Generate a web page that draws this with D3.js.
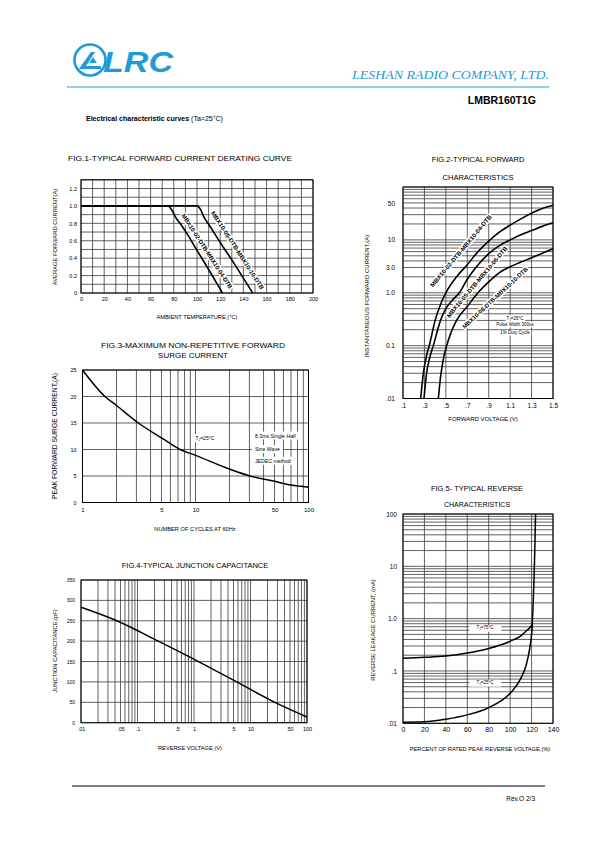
<!DOCTYPE html>
<html><head><meta charset="utf-8">
<script src="https://cdn.jsdelivr.net/npm/d3@7"></script>
<style>
body{margin:0;background:#fff;}
svg{display:block;font-family:"Liberation Sans",Arial,sans-serif;}
</style></head><body>
<svg id="page" width="595" height="842"></svg>
<script>
// ---------- DATA ----------
// Fig.1 derating
const fig1XTicks = [0,20,40,60,80,100,120,140,160,180,200];
const fig1YTicks = [0,0.2,0.4,0.6,0.8,1.0,1.2];
const fig1YLabels = ["0","0.2","0.4","0.6","0.8","1.0","1.2"];
const fig1CurveA = [[0,1],[75,1],[78,0.96],[82,0.86],[86,0.79],[90,0.71],[100,0.49],[110,0.27],[122,0]];
const fig1CurveB = [[0,1],[100,1],[103,0.96],[106,0.87],[110,0.79],[120,0.58],[130,0.38],[140,0.17],[148,0]];
const fig1Labels = [
  {text:"MBX10-02-DTB-MBX10-04-DTB", x:108.6, y:0.48, angle:57, len:88},
  {text:"MBX10-05-DTB-MBX10-10-DTB", x:134.9, y:0.49, angle:57, len:92}
];
// Fig.2 forward characteristics
const fig2XTicks = [0.1,0.3,0.5,0.7,0.9,1.1,1.3,1.5];
const fig2XLabels = [".1",".3",".5",".7",".9","1.1","1.3","1.5"];
const fig2YTicks = [50,10,3,1,0.1,0.01];
const fig2YLabels = ["50","10","3.0","1.0","0.1",".01"];
const fig2Curve1 = [[0.265,0.01],[0.29,0.03],[0.32,0.065],[0.345,0.1],[0.4,0.3],[0.45,0.6],[0.5,1.0],[0.6,2.0],[0.7,3.4],[0.8,6],[0.9,9.5],[1.0,14],[1.1,19],[1.2,25],[1.3,32],[1.4,39],[1.5,45]];
const fig2Curve2 = [[0.296,0.01],[0.32,0.03],[0.35,0.06],[0.383,0.1],[0.45,0.3],[0.5,0.5],[0.56,0.72],[0.626,1.0],[0.7,1.8],[0.78,3],[0.9,5.5],[1.0,7.8],[1.1,10],[1.2,12.5],[1.3,15],[1.4,18],[1.5,21]];
const fig2Curve3 = [[0.43,0.01],[0.45,0.025],[0.48,0.06],[0.508,0.1],[0.55,0.18],[0.6,0.3],[0.7,0.55],[0.8,1.0],[0.9,1.6],[1.0,2.4],[1.1,3.1],[1.2,3.8],[1.3,4.6],[1.4,5.6],[1.5,6.8]];
const fig2Labels = [
  {text:"MBX10-02-DTB-MBX10-04-DTB", x:0.641, y:6.2, angle:-50, len:92},
  {text:"MBX10-05-DTB-MBX10-06-DTB", x:0.791, y:1.6, angle:-50, len:91},
  {text:"MBX10-08-DTB-MBX10-10-DTB", x:0.959, y:0.8, angle:-43, len:87}
];
const fig2Notes = [{text:"25°C", sub:"J", x:1.145, y:0.333},{text:"Pulse Width 300us", x:1.145, y:0.25},{text:"1% Duty Cycle", x:1.145, y:0.176}];
// Fig.3 surge current
const fig3XTicks = [1,5,10,50,100];
const fig3YTicks = [0,5,10,15,20,25];
const fig3Curve = [[1,25],[1.58,20],[2,18.3],[3.12,15],[5,12.2],[7.3,10],[10,8.9],[20,6.3],[30.4,5],[50,4.0],[70,3.3],[100,2.9]];
// Fig.4 capacitance
const fig4XTicks = [0.01,0.05,0.1,0.5,1,5,10,50,100];
const fig4XLabels = [".01",".05",".1",".5","1","5","10","50","100"];
const fig4YTicks = [0,50,100,150,200,250,300,350];
const fig4Curve = [[0.01,283],[0.043,250],[0.233,200],[1.2,150],[5.7,100],[27,50],[100,14]];
// Fig.5 reverse leakage
const fig5XTicks = [0,20,40,60,80,100,120,140];
const fig5YTicks = [100,10,1,0.1,0.01];
const fig5YLabels = ["100","10","1.0",".1",".01"];
const fig5Curve75 = [[0,0.175],[20,0.182],[40,0.193],[60,0.22],[80,0.27],[100,0.37],[110,0.47],[115,0.58],[119,0.7],[120.5,0.8],[121.5,2],[122.3,6],[123,20],[123.7,100]];
const fig5Curve25 = [[0,0.0105],[20,0.0107],[40,0.012],[60,0.0145],[80,0.02],[100,0.0375],[110,0.072],[115,0.13],[118,0.25],[120,0.5],[120.8,0.8]];
const fig5Notes = [{text:"75°C", x:76.5, y:0.67},{text:"25°C", x:76.5, y:0.06}];

// ---------- HELPERS ----------
const svg = d3.select("#page");
const BLUE = "#1f9bd7";
const GRID = "#3a3a3a";

function logGrid(lo, hi){ const v=[]; for(let e=Math.log10(lo); e<Math.log10(hi); e++){ for(let k=1;k<=9;k++) v.push(k*Math.pow(10,e)); } v.push(hi); return v; }

function frame(x, y, xGrid, yGrid){
  const g = svg.append("g");
  const [x0,x1] = x.range(), [y0,y1] = y.range();
  g.selectAll(".vx").data(xGrid).join("line")
    .attr("x1",d=>x(d)).attr("x2",d=>x(d)).attr("y1",y0).attr("y2",y1)
    .attr("stroke",GRID).attr("stroke-width",0.8);
  g.selectAll(".hy").data(yGrid).join("line")
    .attr("x1",x0).attr("x2",x1).attr("y1",d=>y(d)).attr("y2",d=>y(d))
    .attr("stroke",GRID).attr("stroke-width",0.8);
  g.append("rect").attr("x",x0).attr("y",y1).attr("width",x1-x0).attr("height",y0-y1)
    .attr("fill","none").attr("stroke","#000").attr("stroke-width",1);
  return g;
}
function axes(x, y, xv, xl, yv, yl, fsx, fsy, padx, pady){
  const [x0,x1] = x.range(), [y0,y1] = y.range();
  const ax = svg.append("g").attr("transform",`translate(0,${y0})`)
    .call(d3.axisBottom(x).tickValues(xv).tickFormat((d,i)=>xl[i]).tickSize(0).tickPadding(padx));
  ax.select(".domain").remove();
  ax.selectAll("text").attr("font-size",fsx).attr("font-family","Liberation Sans, Arial, sans-serif").attr("fill","#000");
  const ay = svg.append("g").attr("transform",`translate(${x0},0)`)
    .call(d3.axisLeft(y).tickValues(yv).tickFormat((d,i)=>yl[i]).tickSize(0).tickPadding(pady));
  ay.select(".domain").remove();
  ay.selectAll("text").attr("font-size",fsy).attr("font-family","Liberation Sans, Arial, sans-serif").attr("fill","#000");
}
function curve(x, y, data, w){
  svg.append("path").datum(data)
    .attr("d", d3.line().x(d=>x(d[0])).y(d=>y(d[1])).curve(d3.curveMonotoneX))
    .attr("fill","none").attr("stroke","#000").attr("stroke-width",w||1.5).attr("stroke-linejoin","round");
}
function curveLabel(x, y, d){
  svg.append("text").attr("transform",`translate(${x(d.x)},${y(d.y)}) rotate(${d.angle})`)
    .attr("text-anchor","middle").attr("dy","0.35em").attr("font-size",6).attr("font-weight","bold")
    .attr("stroke","#fff").attr("stroke-width",3).attr("paint-order","stroke").attr("stroke-linejoin","round")
    .attr("textLength",d.len).attr("lengthAdjust","spacingAndGlyphs").text(d.text);
}
function text(x, y, s, fs, opts){
  opts = opts||{};
  const t = svg.append("text").attr("x",x).attr("y",y).attr("font-size",fs)
    .attr("text-anchor",opts.anchor||"middle").attr("fill",opts.fill||"#000");
  if(opts.weight) t.attr("font-weight",opts.weight);
  if(opts.style) t.attr("font-style",opts.style);
  if(opts.family) t.attr("font-family",opts.family);
  if(opts.rotate) t.attr("transform",`rotate(${opts.rotate},${x},${y})`);
  if(opts.len) t.attr("textLength",opts.len).attr("lengthAdjust","spacingAndGlyphs");
  t.text(s);
  return t;
}
function boxedNote(x, y, s, fs, sub, padX, padY){
  const g = svg.append("g");
  const t = g.append("text").attr("x",x).attr("y",y).attr("font-size",fs).attr("text-anchor","middle").attr("dy","0.35em");
  if(sub){ t.append("tspan").text("T"); t.append("tspan").attr("font-size",fs*0.7).attr("dy","0.35em").text(sub);
           t.append("tspan").attr("dy","-0.25em").text("="+s); }
  else t.text(s);
  const b = t.node().getBBox();
  g.insert("rect","text").attr("x",b.x-padX).attr("y",b.y-padY).attr("width",b.width+2*padX).attr("height",b.height+2*padY).attr("fill","#fff");
}

// ---------- HEADER ----------
svg.append("circle").attr("cx",90).attr("cy",60).attr("r",15.5).attr("fill","none").attr("stroke",BLUE).attr("stroke-width",2.6);
svg.append("path").attr("d","M79,69 L101,69 L101,66 L86,66 L95,52 L91,52 L81,66 Z").attr("fill",BLUE);
svg.append("path").attr("d","M89,63 L97,63 L93,57 Z").attr("fill",BLUE);
text(103,72,"LRC",30,{anchor:"start",weight:"bold",style:"italic",fill:BLUE,len:70});
text(549,79,"LESHAN RADIO COMPANY, LTD.",13,{anchor:"end",style:"italic",fill:BLUE,family:"Liberation Serif, Times New Roman, serif",len:197});
svg.append("line").attr("x1",67).attr("x2",549).attr("y1",87).attr("y2",87).attr("stroke",BLUE).attr("stroke-width",1.2);
text(536,104,"LMBR160T1G",10.5,{anchor:"end",weight:"bold"});
const el = text(86,121,"Electrical characteristic curves ",7,{anchor:"start",weight:"bold"});
el.append("tspan").attr("font-weight","normal").text("(Ta=25°C)");

// ---------- FIG.1 ----------
{
  const x = d3.scaleLinear().domain([0,200]).range([81,313]);
  const y = d3.scaleLinear().domain([0,1.3]).range([293,179.8]);
  frame(x, y, d3.range(0,201,10), d3.range(0,14).map(i=>i/10));
  axes(x, y, fig1XTicks, fig1XTicks.map(String), fig1YTicks, fig1YLabels, 5.5, 5.5, 4, 4);
  curve(x, y, fig1CurveA, 1.6);
  curve(x, y, fig1CurveB, 1.6);
  fig1Labels.forEach(d=>curveLabel(x, y, d));
  text(180,161,"FIG.1-TYPICAL FORWARD CURRENT DERATING CURVE",7.5,{len:224});
  text(197,319,"AMBIENT TEMPERATURE,(°C)",5.7);
  text(57,237,"AVERAGE FORWARD CURRENT(A)",5.8,{rotate:-90});
}
// ---------- FIG.2 ----------
{
  const x = d3.scaleLinear().domain([0.1,1.5]).range([403,553]);
  const y = d3.scaleLog().domain([0.01,100]).range([398.5,187]);
  frame(x, y, fig2XTicks, logGrid(0.01,100));
  axes(x, y, fig2XTicks, fig2XLabels, fig2YTicks, fig2YLabels, 6.5, 6.5, 5, 8);
  curve(x, y, fig2Curve1, 1.6);
  curve(x, y, fig2Curve2, 1.6);
  curve(x, y, fig2Curve3, 1.6);
  fig2Labels.forEach(d=>curveLabel(x, y, d));
  fig2Notes.forEach(d=>boxedNote(x(d.x), y(d.y), d.text, 4.5, d.sub, 1, 0.3));
  text(478,162,"FIG.2-TYPICAL FORWARD",7.5);
  text(478,180,"CHARACTERISTICS",7.5);
  text(483,421,"FORWARD VOLTAGE,(V)",6);
  text(369,296,"INSTANTANEOUS FORWARD CURRENT,(A)",6,{rotate:-90});
}
// ---------- FIG.3 ----------
{
  const x = d3.scaleLog().domain([1,100]).range([82.5,308.5]);
  const y = d3.scaleLinear().domain([0,25]).range([502.5,370]);
  frame(x, y, logGrid(1,100), d3.range(0,26,5));
  axes(x, y, fig3XTicks, fig3XTicks.map(String), fig3YTicks, fig3YTicks.map(String), 6, 5.5, 5, 6);
  curve(x, y, fig3Curve, 1.5);
  boxedNote(x(12.1), y(12.2), "25°C", 5, "J", 1.5, 0.5);
  [["8.3ms Single Half",435.7],["Sine Wave",449.3],["JEDEC method",461]].forEach(([s,py])=>{
    const g = svg.append("g");
    const t = g.append("text").attr("x",255).attr("y",py).attr("dy","0.35em").attr("font-size",5.2).text(s);
    const b = t.node().getBBox();
    g.insert("rect","text").attr("x",b.x-3).attr("y",b.y-1).attr("width",b.width+6).attr("height",b.height+2).attr("fill","#fff");
  });
  text(193,347.5,"FIG.3-MAXIMUM NON-REPETITIVE FORWARD",7.5,{len:184});
  text(193,358,"SURGE CURRENT",8);
  text(195,531,"NUMBER OF CYCLES AT 60Hz",5.7);
  text(57,436,"PEAK FORWARD SURGE CURRENT,(A)",6.8,{rotate:-90});
}
// ---------- FIG.4 ----------
{
  const x = d3.scaleLog().domain([0.01,100]).range([81,307]);
  const y = d3.scaleLinear().domain([0,350]).range([722.7,580]);
  frame(x, y, logGrid(0.01,100), fig4YTicks);
  axes(x, y, fig4XTicks, fig4XLabels, fig4YTicks, fig4YTicks.map(String), 5.5, 5, 4, 6);
  curve(x, y, fig4Curve, 1.5);
  text(195,567.5,"FIG.4-TYPICAL JUNCTION CAPACITANCE",7.5);
  text(190,750,"REVERSE VOLTAGE,(V)",5.7);
  text(57,651,"JUNCTION CAPACITANCE,(pF)",5.8,{rotate:-90});
}
// ---------- FIG.5 ----------
{
  const x = d3.scaleLinear().domain([0,140]).range([403,553]);
  const y = d3.scaleLog().domain([0.01,100]).range([723.3,514]);
  frame(x, y, fig5XTicks, logGrid(0.01,100));
  axes(x, y, fig5XTicks, fig5XTicks.map(String), fig5YTicks, fig5YLabels, 7, 6.5, 4, 6);
  curve(x, y, fig5Curve75, 1.5);
  curve(x, y, fig5Curve25, 1.5);
  fig5Notes.forEach(d=>boxedNote(x(d.x), y(d.y), d.text, 4.5, "J", 7, 0.4));
  text(477,491,"FIG.5- TYPICAL REVERSE",7.5);
  text(477,507,"CHARACTERISTICS",7);
  text(480,750.5,"PERCENT OF RATED PEAK REVERSE VOLTAGE,(%)",5.7);
  text(375,630,"REVERSE LEAKAGE CURRENT, (mA)",5.8,{rotate:-90});
}
// ---------- FOOTER ----------
svg.append("line").attr("x1",72).attr("x2",545).attr("y1",786).attr("y2",786).attr("stroke","#000").attr("stroke-width",1);
text(535,801,"Rev.O  2/3",6.5,{anchor:"end"});
</script>
</body></html>
